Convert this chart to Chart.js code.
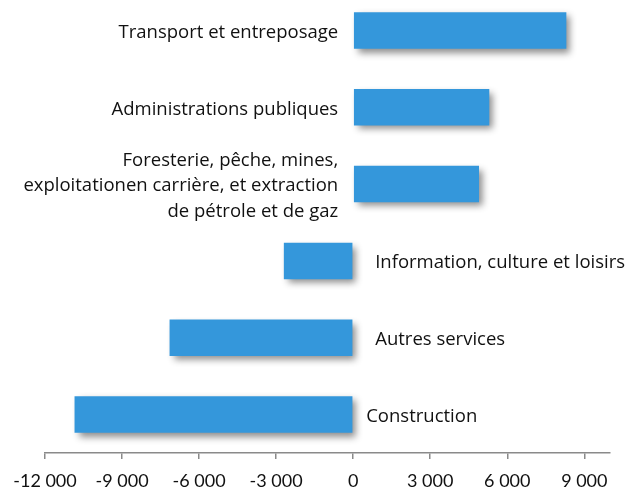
<!DOCTYPE html>
<html>
<head>
<meta charset="utf-8">
<script src="https://cdn.jsdelivr.net/npm/chart.js@4.4.1/dist/chart.umd.min.js"></script>
<style>
  html, body { margin: 0; padding: 0; background: #fff; overflow: hidden; }
  #wrap { position: absolute; left: 0; top: -8px; width: 631px; height: 495px; }
</style>
</head>
<body>
<div id="wrap"><canvas id="chart"></canvas></div>
<script>
// secteurs (les libellés multi-lignes sont des tableaux)
const categories = [
  'Transport et entreposage',
  'Administrations publiques',
  ['Foresterie, pêche, mines,', 'exploitationen carrière, et extraction', 'de pétrole et de gaz'],
  'Information, culture et loisirs',
  'Autres services',
  'Construction'
];
const values = [8300, 5300, 4900, -2700, -7150, -10850];
const xTicks = [-12000, -9000, -6000, -3000, 0, 3000, 6000, 9000];
const xMin = -12000;
const xMax = 10000;

const BAR_COLOR = '#3497db';
const AXIS_COLOR = '#8a8a8a';
const TICK_FONT = 'Lato, "Open Sans", sans-serif';
const LABEL_FONT = '"Open Sans", Lato, sans-serif';

function fmt(v) {
  const s = Math.abs(v).toString().replace(/\B(?=(\d{3})+(?!\d))/g, ' ');
  return (v < 0 ? '-' : '') + s;
}

// ombre portée sous les barres
const shadowPlugin = {
  id: 'barShadow',
  beforeDatasetsDraw(chart) {
    const ctx = chart.ctx;
    ctx.save();
    ctx.shadowColor = 'rgba(0,0,0,0.45)';
    ctx.shadowBlur = 7;
    ctx.shadowOffsetX = 4;
    ctx.shadowOffsetY = 4;
  },
  afterDatasetsDraw(chart) {
    chart.ctx.restore();
  }
};

// libellés à côté de l'axe zéro, du côté opposé à la barre
// (le dernier est un peu plus près de l'axe dans l'original)
const sideLabels = {
  id: 'sideLabels',
  afterDraw(chart) {
    const ctx = chart.ctx;
    const meta = chart.getDatasetMeta(0);
    const zero = chart.scales.x.getPixelForValue(0);
    ctx.save();
    ctx.font = '18.5px ' + LABEL_FONT;
    ctx.fillStyle = '#111';
    ctx.textBaseline = 'middle';
    meta.data.forEach((bar, i) => {
      const lines = [].concat(categories[i]);
      const lh = 25.5;
      const pos = values[i] >= 0;
      ctx.textAlign = pos ? 'right' : 'left';
      const gapRight = i === meta.data.length - 1 ? 13 : 22;
      const x = pos ? zero - 15 : zero + gapRight;
      const y0 = bar.y + 2 - (lines.length - 1) * lh / 2;
      lines.forEach((t, k) => ctx.fillText(t, x, y0 + k * lh));
    });
    ctx.restore();
  }
};

new Chart(document.getElementById('chart'), {
  type: 'bar',
  data: {
    labels: categories,
    datasets: [{
      data: values,
      backgroundColor: BAR_COLOR,
      borderWidth: 0,
      barPercentage: 0.475,
      categoryPercentage: 1
    }]
  },
  options: {
    indexAxis: 'y',
    responsive: true,
    maintainAspectRatio: false,
    animation: false,
    layout: { padding: { left: 45, right: 21, top: 0, bottom: 0 } },
    plugins: { legend: { display: false }, tooltip: { enabled: false } },
    scales: {
      y: { display: false },
      x: {
        min: xMin,
        max: xMax,
        afterBuildTicks(scale) { scale.ticks = xTicks.map((v) => ({ value: v })); },
        afterFit(scale) { scale.height = 34; },
        border: { display: true, color: AXIS_COLOR, width: 1.5 },
        grid: { drawOnChartArea: false, drawTicks: true, tickLength: 6, color: AXIS_COLOR, lineWidth: 1.5 },
        ticks: {
          color: '#111',
          padding: 11,
          maxRotation: 0,
          autoSkip: false,
          font: { family: TICK_FONT, size: 18 },
          callback: (v) => fmt(v)
        }
      }
    }
  },
  plugins: [shadowPlugin, sideLabels]
});
</script>
</body>
</html>
